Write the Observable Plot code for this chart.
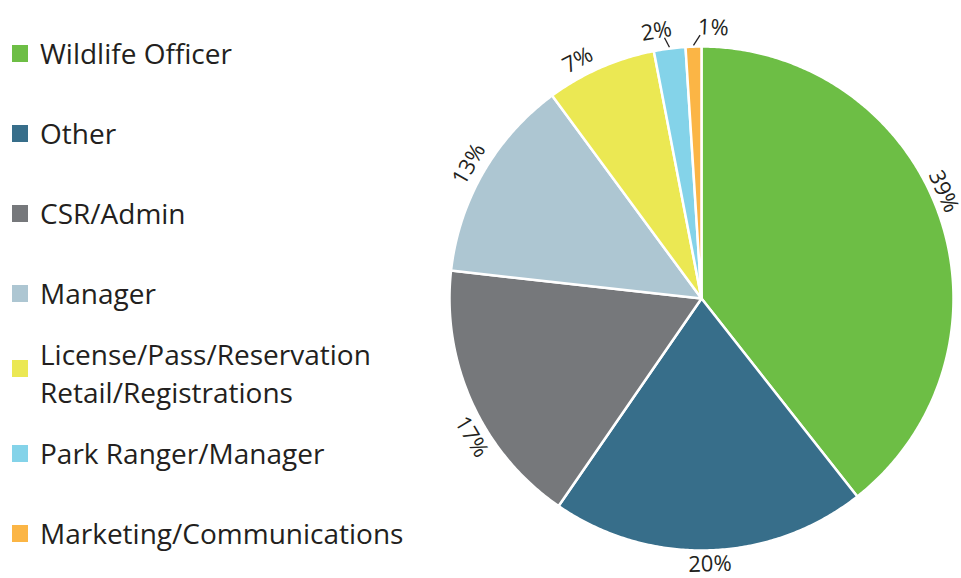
<!DOCTYPE html>
<html>
<head>
<meta charset="utf-8">
<script src="https://cdn.jsdelivr.net/npm/d3@7"></script>
<script src="https://cdn.jsdelivr.net/npm/@observablehq/plot@0.6"></script>
<style>
  html, body { margin: 0; padding: 0; background: #fff; }
  #wrap { position: relative; width: 961px; height: 578px; font-family: "Open Sans", sans-serif; overflow: hidden; }
  #legend { position: absolute; left: 12px; top: 13px; }
  .item { height: 80px; display: flex; align-items: center; }
  .sw { width: 16px; height: 17px; flex: none; margin-right: 12px; }
  .lab { font-size: 28px; line-height: 38px; color: #231f20; }
  #chart { position: absolute; left: 0; top: 0; }
</style>
</head>
<body>
<div id="wrap"><div id="chart"></div><div id="legend"></div></div>
<script>
const categories = ["Wildlife Officer", "Other", "CSR/Admin", "Manager", "License/Pass/Reservation\nRetail/Registrations", "Park Ranger/Manager", "Marketing/Communications"];
const values = [39, 20, 17, 13, 7, 2, 1];
const labels = ["39%", "20%", "17%", "13%", "7%", "2%", "1%"];
const colors = ["#6dbe45", "#376e8a", "#76787b", "#adc6d2", "#ebe853", "#84d3e9", "#fbb545"];

// legend
const legend = document.getElementById("legend");
categories.forEach((c, i) => {
  const it = document.createElement("div"); it.className = "item";
  const sw = document.createElement("div"); sw.className = "sw"; sw.style.background = colors[i];
  if (c.includes("\n")) sw.style.marginTop = "-10px";
  const lb = document.createElement("div"); lb.className = "lab"; lb.innerHTML = c.split("\n").join("<br>");
  it.appendChild(sw); it.appendChild(lb); legend.appendChild(it);
});

// pie geometry (unit radius, angles clockwise from top)
const total = d3.sum(values);
const W = 961, H = 578, cx = 701, cy = 298, R = 252;
let cum = 0;
const slices = values.map((v, i) => {
  const a0 = cum / total * 2 * Math.PI; cum += v;
  const a1 = cum / total * 2 * Math.PI;
  return {name: categories[i], label: labels[i], a0, a1, mid: (a0 + a1) / 2, small: v < 3};
});
const pts = [];
for (const s of slices) {
  pts.push({name: s.name, x: 0, y: 0});
  const n = Math.max(2, Math.ceil((s.a1 - s.a0) / (Math.PI / 360)));
  for (let k = 0; k <= n; k++) {
    const a = s.a0 + (s.a1 - s.a0) * k / n;
    pts.push({name: s.name, x: Math.sin(a), y: Math.cos(a)});
  }
  pts.push({name: s.name, x: 0, y: 0});
}
const deg = Math.PI / 180;
// hand-placed label offsets (angular / radial), as in the reference
const nudge = {"39%": -4.8 * deg, "17%": -6.5 * deg, "7%": -3.8 * deg, "2%": -2.3 * deg, "1%": 4.3 * deg};
const radial = {"39%": 1.05, "20%": 1.055};
const labelData = slices.map(s => {
  const a = s.mid + (nudge[s.label] || 0);
  const r = radial[s.label] || (s.small ? 1.075 : 1.065);
  let rot = a / deg;
  if (rot > 180) rot -= 360;
  if (rot > 90) rot -= 180;
  if (rot < -90) rot += 180;
  return {label: s.label, x: r * Math.sin(a), y: r * Math.cos(a), rot};
});
const leaders = slices.filter(s => s.small).map(s => {
  const la = s.mid + (nudge[s.label] || 0);
  const ea = s.mid + (la - s.mid) * 0.35;
  return {x1: 1.005 * Math.sin(s.mid), y1: 1.005 * Math.cos(s.mid), x2: 1.045 * Math.sin(ea), y2: 1.045 * Math.cos(ea)};
});

const chart = Plot.plot({
  width: W, height: H,
  margin: 0,
  x: {domain: [-cx / R, (W - cx) / R], axis: null},
  y: {domain: [-(H - cy) / R, cy / R], axis: null},
  color: {domain: categories, range: colors},
  marks: [
    Plot.line(pts, {x: "x", y: "y", z: "name", fill: "name", stroke: "#fff", strokeWidth: 2.5, strokeLinejoin: "round", curve: "linear"}),
    Plot.link(leaders, {x1: "x1", y1: "y1", x2: "x2", y2: "y2", stroke: "#231f20", strokeWidth: 1.3}),
    Plot.text(labelData, {x: "x", y: "y", text: "label", rotate: "rot", fontSize: 22, fill: "#231f20", fontFamily: "Open Sans", textAnchor: "middle", lineAnchor: "middle"})
  ]
});
document.getElementById("chart").appendChild(chart);
</script>
</body>
</html>
